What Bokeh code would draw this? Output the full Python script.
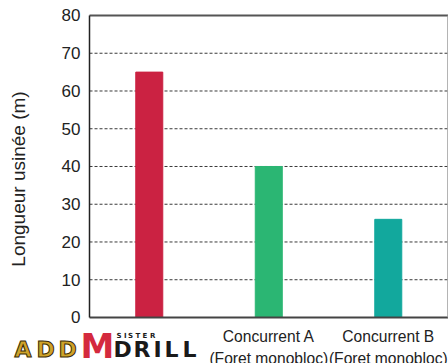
from bokeh.plotting import figure
from bokeh.models import Range1d, LinearAxis, FixedTicker
from bokeh.models.glyphs import Text
from bokeh.core.properties import value
from bokeh.embed import file_html
from bokeh.resources import INLINE

# Drilled length per tool
categories = ["ADDMDRILL", "Concurrent A", "Concurrent B"]
category_labels = ["", "Concurrent A\n(Foret monobloc)", "Concurrent B\n(Foret monobloc)"]
lengths = [65, 40, 26]
bar_colors = ["#CB2242", "#2BB673", "#12A89D"]
y_ticks = [0, 10, 20, 30, 40, 50, 60, 70, 80]
grid_ticks = [10, 20, 30, 40, 50, 60, 70]
y_title = "Longueur usinée (m)"

FONT = "Liberation Sans"
TEXT = "#222222"

n = len(categories)
x_pos = [i + 0.5 for i in range(n)]
y_top = y_ticks[-1]

# plot area spans the whole canvas so the category captions and the logo
# below the baseline are drawn in data space; axes sit at fixed locations
p = figure(
    width=448, height=363,
    x_range=Range1d(-0.745, n + 0.004),
    y_range=Range1d(-12.19, y_top + 3.97),
    x_axis_type=None, y_axis_type=None,
    output_backend="svg", toolbar_location=None,
    min_border_left=0, min_border_right=0,
    min_border_top=0, min_border_bottom=0,
)
p.outline_line_color = None
p.background_fill_color = "white"
p.border_fill_color = "white"
p.xgrid.visible = False
p.ygrid.visible = False

# dashed horizontal grid between the axes
p.segment(x0=[0] * len(grid_ticks), x1=[n] * len(grid_ticks),
          y0=grid_ticks, y1=grid_ticks,
          line_color="#3a3a3a", line_width=1, line_dash="3 2")

p.vbar(x=x_pos, top=lengths, width=0.226, color=bar_colors)

# frame: bottom, top and right edges
p.segment(x0=[0], x1=[n], y0=[0], y1=[0], line_color="#444444", line_width=2)
p.segment(x0=[0], x1=[n], y0=[y_top], y1=[y_top], line_color="#555555", line_width=2)
p.segment(x0=[n], x1=[n], y0=[0], y1=[y_top], line_color="#999999", line_width=1.5)

# value axis
yaxis = LinearAxis(
    fixed_location=0, bounds=(0, y_top),
    ticker=FixedTicker(ticks=y_ticks),
    axis_line_color="#222222", axis_line_width=1.5,
    major_tick_line_color=None, minor_tick_line_color=None,
    major_tick_out=0, major_tick_in=0,
    major_label_text_font=FONT, major_label_text_font_size="17px",
    major_label_text_color=TEXT, major_label_standoff=9,
)
p.add_layout(yaxis, "left")

# axis title
title_axis = LinearAxis(
    fixed_location=0, bounds=(-6.6, y_top),
    ticker=FixedTicker(ticks=[]),
    axis_line_color=None,
    major_tick_line_color=None, minor_tick_line_color=None,
    major_tick_out=0, major_tick_in=0,
    axis_label=y_title, axis_label_standoff=61,
    axis_label_text_font=FONT, axis_label_text_font_style="normal",
    axis_label_text_font_size="19px", axis_label_text_color=TEXT,
)
p.add_layout(title_axis, "left")

# category captions
p.text(x=x_pos[1:], y=[-2.75] * (n - 1), text=category_labels[1:],
       text_font=value(FONT), text_font_size=value("15.6px"),
       text_color=TEXT, text_align="center", text_baseline="top",
       text_line_height=1.3)

# ADDMDRILL logo under the first bar
extra = {}
if "text_outline_color" in Text.properties():
    extra = dict(text_outline_color="#3b2c05")

def logo(chars, xs_px, baseline_px, size_px, color, more=None):
    # glyphs sit on their descent line, so lift them by the font's descent
    bottom_px = baseline_px - 0.236 * size_px
    xs = [(px - 89) / 119.5 for px in xs_px]
    ys = [(317 - bottom_px) / 3.775] * len(xs)
    kw = dict(text_font=value("DejaVu Sans"), text_font_style=value("bold"),
              text_font_size=value(f"{size_px}px"), text_color=color,
              text_align="left", text_baseline="alphabetic")
    if more:
        kw.update(more)
    p.text(x=xs, y=ys, text=list(chars), **kw)

logo("ADD", [14, 36, 58], 354, 22, "#CFA32A", extra)
logo("M", [80], 354, 34, "#D42A3E")
logo("SISTER", [116, 123.5, 127.5, 135, 142, 149.5], 337, 7, "#1a1a1a")
logo("DRILL", [113, 133, 153, 164, 182], 354, 22, "#1a1a1a")

open("out.html", "w").write(file_html(p, INLINE))
